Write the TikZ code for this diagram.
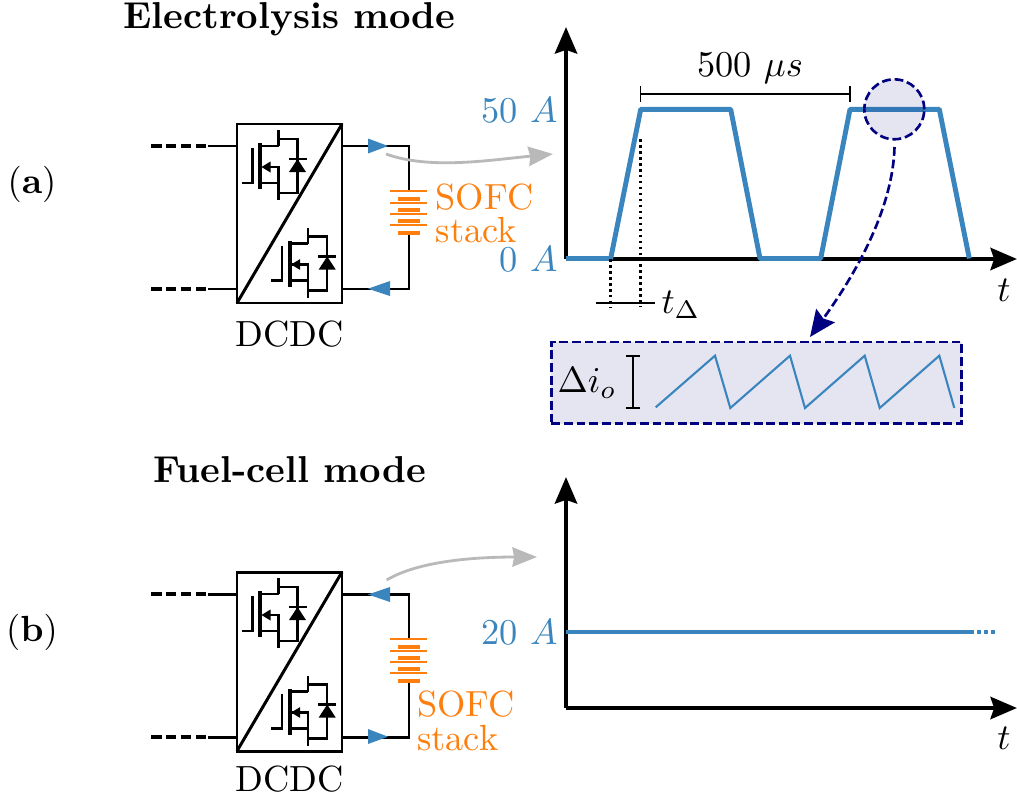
\documentclass[tikz,border=0pt]{standalone}
\usepackage{amsmath}
\usetikzlibrary{arrows.meta}
\definecolor{wave}{HTML}{3A85BD}
\definecolor{sofc}{HTML}{FF7F0E}
\definecolor{zoomfill}{HTML}{E5E5F2}
\definecolor{navy}{HTML}{000080}
\tikzset{
    wire/.style={line width=1.7pt,black},
    wiredash/.style={wire,line width=1.9pt,dash pattern=on 6pt off 2.5pt},
    fet/.style={line width=1.3pt,black},
    plate/.style={sofc,line width=1pt},
    cell/.style={sofc,line width=2.4pt},
    axis/.style={line width=2.8pt,-{Stealth[length=15pt,width=12.5pt,inset=2pt]}},
    pulse/.style={wave,line width=2.8pt,line join=round},
    zoomline/.style={navy,line width=1.5pt,dash pattern=on 5pt off 2.2pt},
    flow/.style={gray!55,line width=1.6pt,-{Stealth[length=14pt,width=11pt,inset=1pt]}},
    guide/.style={line width=1.5pt,dash pattern=on 1.5pt off 1.9pt},
    measure/.style={line width=1.1pt},
    lab/.style={scale=2.07,inner sep=0pt},
    wavelab/.style={lab,text=wave,anchor=east},
    sofclab/.style={lab,text=sofc,anchor=west},
    title/.style={scale=2.13,inner sep=0pt,font=\bfseries},
    % one transistor with its diode, origin at the gate top
    pics/mosfet/.style={code={
        \draw[fet](0,0)--(0,35)--(-11,35);
        \draw[line width=2.2pt](7.5,-5)--(7.5,41);
        \draw[fet](7.5,-2)--(26,-2);
        \draw[fet](26,-18)--(26,-2);
        \draw[fet](7.5,35)--(26,35);
        \draw[fet](10,19)--(26,19)--(26,52);
        \fill(9,19)--(18,13.5)--(18,24.5)--cycle;
        \draw[fet](26,-9)--(45,-9)--(45,45)--(26,45);
        \draw[fet](36,11)--(54,11);
        \fill(45,11)--(36.5,24)--(53.5,24)--cycle;
    }},
    % converter box, wires and cell stack, origin at the box top left
    pics/dcdc/.style={code={
        \draw[wire](0,0)rectangle(105,179);
        \draw[wire](0,179)--(105,0);
        \draw[wiredash](-86,22)--(-29,22);
        \draw[wire](-29,22)--(0,22);
        \draw[wiredash](-86,165)--(-29,165);
        \draw[wire](-29,165)--(0,165);
        \draw[wire](105,22)--(172,22)--(172,66);
        \draw[wire](172,109)--(172,165)--(105,165);
        \pic at (15.5,24){mosfet};
        \pic at (45.2,121.5){mosfet};
        \foreach \y in {67,78.7,90,100.7}
            \draw[plate](153,\y)--(190,\y);
        \foreach \y in {75,86,97,108.7}
            \draw[cell](161,\y)--(183,\y);
    }}
}
\begin{document}
\begin{tikzpicture}[x=0.02cm,y=-0.02cm]
    \useasboundingbox(0,0)rectangle(1017,801);
    % (a) electrolysis
    \node[title] (titlea) at (289.5,19){Electrolysis mode};
    \node[lab] (casea) at (32,184){$(\mathbf{a})$};
    \pic at (237,124){dcdc};
    \node[lab] (dcdca) at (289.5,334){DCDC};
    \fill[wave](388,146)--(368,138.5)--(368,153.5)--cycle;
    \fill[wave](368,288.7)--(390,281)--(390,296)--cycle;
    \node[sofclab] (sofca) at (435,197){SOFC};
    \node[sofclab] (stacka) at (435,230){stack};
    \draw[flow](386,154)..controls(430,170)and(490,160)..(553,154);
    \draw[axis](566,259)--(566,27);
    \draw[axis](566,259)--(1017,259);
    \draw[pulse](566,258.5)--(610.7,258.5)--(640.7,109.3)--(730.7,109.3)--(760,258.5)--(820.7,258.5)--(850,109.3)--(939.3,109.3)--(969.3,258.5);
    \node[wavelab] (higha) at (558,110){50 $A$};
    \node[wavelab] (lowa) at (558,259){0 $A$};
    \node[lab] (ta) at (1004,290){$t$};
    \draw[guide](610.7,259)--(610.7,307);
    \draw[guide](640.7,139)--(640.7,307);
    \draw[measure](596,303.3)--(655,303.3);
    \node[lab] (tdelta) at (681,305){$t_\Delta$};
    \draw[measure](640.5,94)--(850,94);
    \draw[measure](640.5,86)--(640.5,102);
    \draw[measure](850,86)--(850,102);
    \node[lab] (period) at (750,68){500 $\mu s$};
    \node[circle,zoomline,draw=navy,fill=navy,fill opacity=0.1,draw opacity=1,minimum size=34.1pt,inner sep=0pt] (spot) at (894.3,109.3){};
    \node[zoomline,draw=navy,fill=zoomfill,minimum width=233.6pt,minimum height=46.4pt,inner sep=0pt,anchor=north west] (ripple) at (550,340.7){};
    \coordinate (spotout) at (894.5,147);
    \coordinate (ripplein) at (810,337);
    \draw[zoomline,-{Stealth[length=15pt,width=13pt,inset=2pt]}](spotout)..controls(893,205)and(860,268)..(ripplein);
    \node[lab] (dio) at (587,383){$\Delta i_o$};
    \draw[measure,line width=1.5pt](633,356)--(633,408);
    \draw[measure,line width=1.5pt](626,356)--(640,356);
    \draw[measure,line width=1.5pt](626,408)--(640,408);
    \draw[wave,line width=1.2pt](655.7,407.3)--(715,355.7)--(730.3,408)--(790,355.7)--(805,408)--(864.7,355.7)--(879.7,408)--(939.3,355.7)--(954.3,408);
    % (b) fuel cell
    \node[title] (titleb) at (289.5,470){Fuel-cell mode};
    \node[lab] (caseb) at (32,632){$(\mathbf{b})$};
    \pic at (237,572){dcdc};
    \node[lab] (dcdcb) at (289.5,779){DCDC};
    \fill[wave](368,594.5)--(390,587)--(390,602)--cycle;
    \fill[wave](388,736.7)--(368,729)--(368,744)--cycle;
    \node[sofclab] (sofcb) at (416.5,704){SOFC};
    \node[sofclab] (stackb) at (416.5,738){stack};
    \draw[flow](386.7,580)..controls(420,560)and(480,557)..(537,557);
    \draw[axis](566,708)--(566,477);
    \draw[axis](566,708)--(1017,708);
    \draw[pulse](566,632)--(970,632);
    \draw[pulse,dash pattern=on 2.5pt off 1.5pt](970,632)--(998,632);
    \node[wavelab] (levelb) at (558,632){20 $A$};
    \node[lab] (tb) at (1004,738){$t$};
\end{tikzpicture}
\end{document}
